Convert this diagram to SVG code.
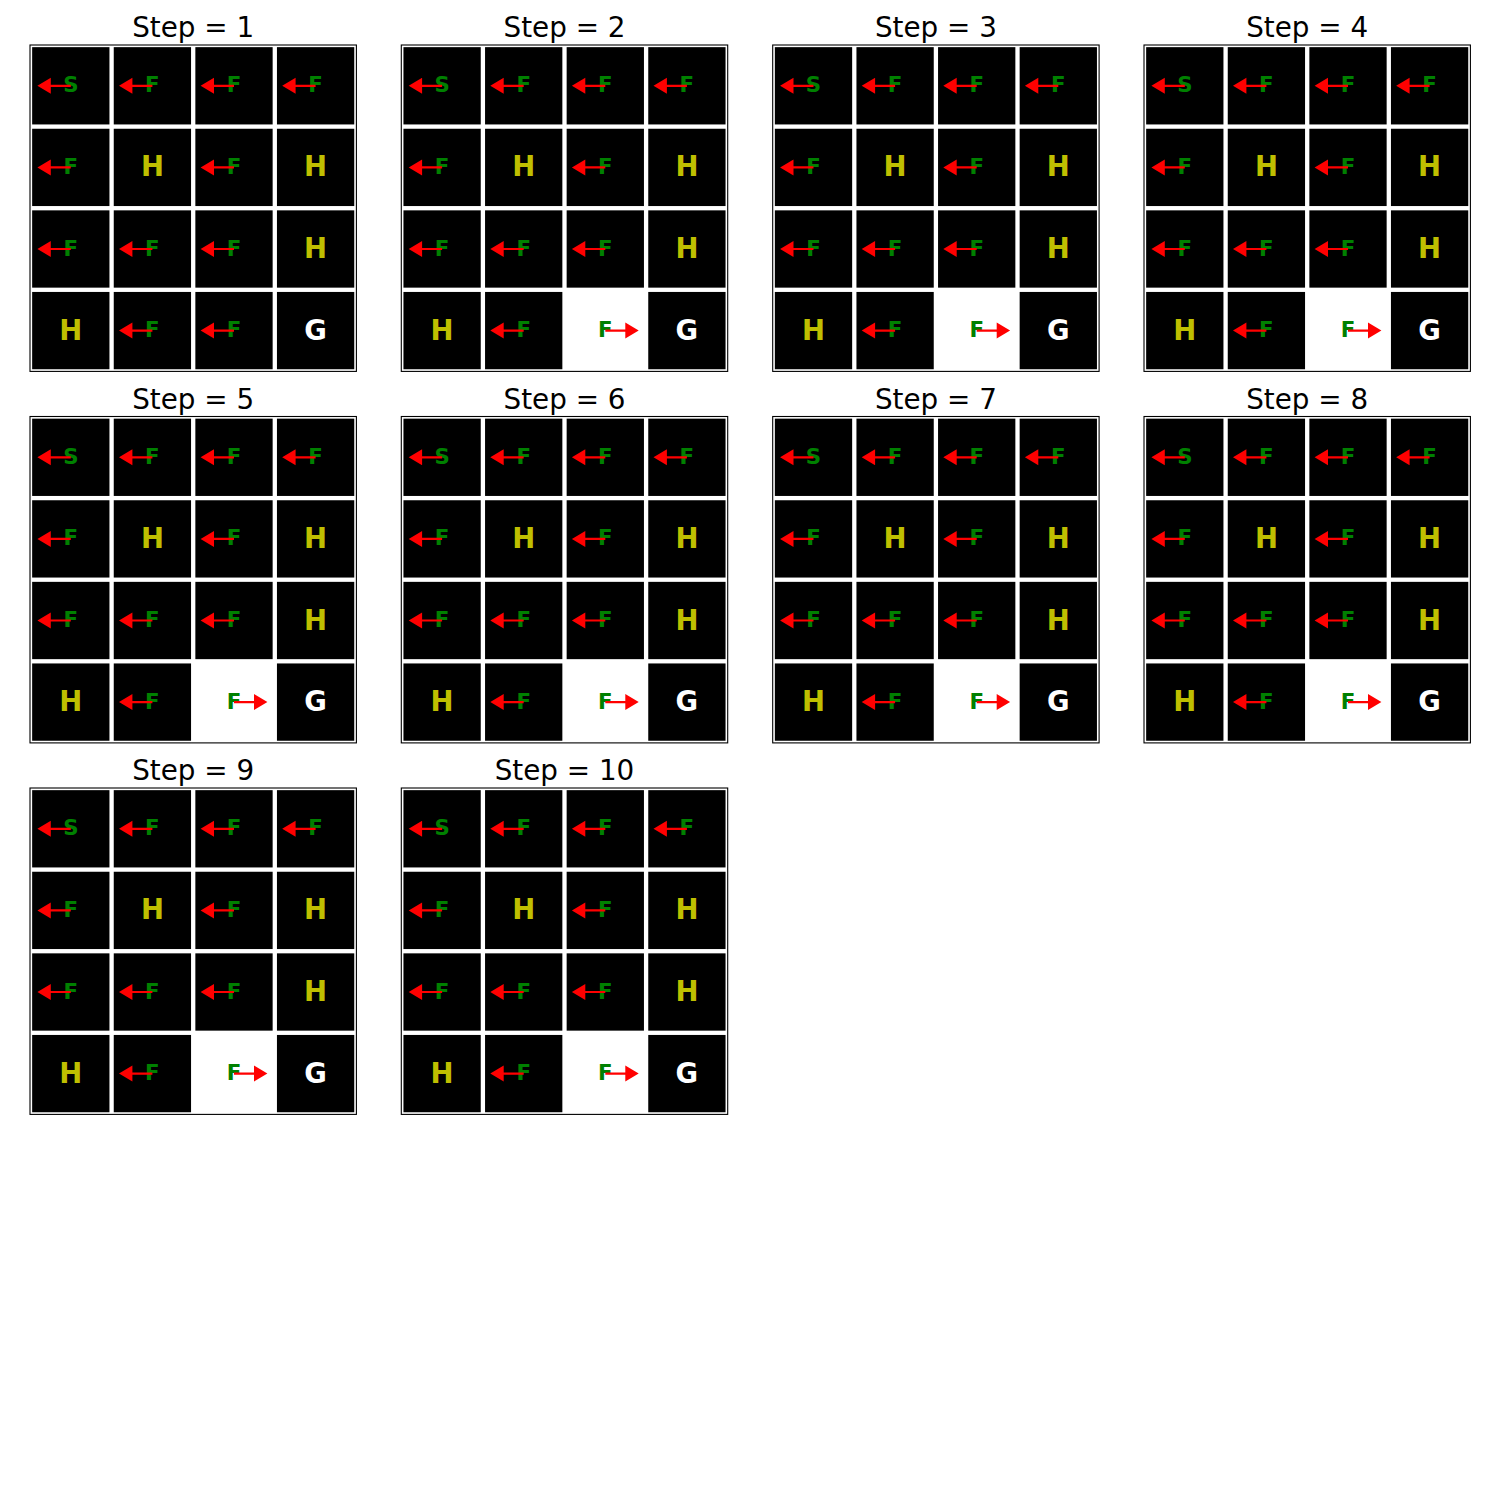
<svg xmlns="http://www.w3.org/2000/svg" xmlns:xlink="http://www.w3.org/1999/xlink" width="1500" height="1500" viewBox="0 0 1500 1500">
<style>
.bg{fill:#ffffff}
.title{font-family:"DejaVu Sans",sans-serif;font-size:27.8px;fill:#000;text-anchor:middle}
.frame{fill:#ffffff;stroke:#000;stroke-width:1.1}
.bk{fill:#000}
.sm{font-family:"DejaVu Sans",sans-serif;font-weight:bold;font-size:21.3px;fill:#008000;text-anchor:middle}
.hl{font-family:"DejaVu Sans",sans-serif;font-weight:bold;font-size:27.5px;fill:#bfbf00;text-anchor:middle}
.gl{font-family:"DejaVu Sans",sans-serif;font-weight:bold;font-size:27.5px;fill:#ffffff;text-anchor:middle}
.ar{fill:#ff0000}
</style>
<defs>
<path id="al" class="ar" d="M0,-1.1 H-20 V-8 L-33.4,0 L-20,8 V1.1 H0 Z"/>
<path id="ar" class="ar" d="M0,-1.1 H20 V-8 L33.4,0 L20,8 V1.1 H0 Z"/>
</defs>
<rect class="bg" x="0" y="0" width="1500" height="1500"/>

<g id="step1" transform="translate(30,45)">
<text class="title" x="163.2" y="-8">Step = 1</text>
<rect class="frame" x="0" y="0" width="326.4" height="326.4"/>
<g id="p1-00"><rect class="bk" x="2.15" y="2.15" width="77.3" height="77.3"/><text class="sm" x="40.8" y="47.3">S</text><use href="#al" x="40.8" y="40.8"/></g>
<g id="p1-01"><rect class="bk" x="83.75" y="2.15" width="77.3" height="77.3"/><text class="sm" x="122.4" y="47.3">F</text><use href="#al" x="122.4" y="40.8"/></g>
<g id="p1-02"><rect class="bk" x="165.35" y="2.15" width="77.3" height="77.3"/><text class="sm" x="204" y="47.3">F</text><use href="#al" x="204" y="40.8"/></g>
<g id="p1-03"><rect class="bk" x="246.95" y="2.15" width="77.3" height="77.3"/><text class="sm" x="285.6" y="47.3">F</text><use href="#al" x="285.6" y="40.8"/></g>
<g id="p1-10"><rect class="bk" x="2.15" y="83.75" width="77.3" height="77.3"/><text class="sm" x="40.8" y="128.9">F</text><use href="#al" x="40.8" y="122.4"/></g>
<g id="p1-11"><rect class="bk" x="83.75" y="83.75" width="77.3" height="77.3"/><text class="hl" x="122.4" y="131.4">H</text></g>
<g id="p1-12"><rect class="bk" x="165.35" y="83.75" width="77.3" height="77.3"/><text class="sm" x="204" y="128.9">F</text><use href="#al" x="204" y="122.4"/></g>
<g id="p1-13"><rect class="bk" x="246.95" y="83.75" width="77.3" height="77.3"/><text class="hl" x="285.6" y="131.4">H</text></g>
<g id="p1-20"><rect class="bk" x="2.15" y="165.35" width="77.3" height="77.3"/><text class="sm" x="40.8" y="210.5">F</text><use href="#al" x="40.8" y="204"/></g>
<g id="p1-21"><rect class="bk" x="83.75" y="165.35" width="77.3" height="77.3"/><text class="sm" x="122.4" y="210.5">F</text><use href="#al" x="122.4" y="204"/></g>
<g id="p1-22"><rect class="bk" x="165.35" y="165.35" width="77.3" height="77.3"/><text class="sm" x="204" y="210.5">F</text><use href="#al" x="204" y="204"/></g>
<g id="p1-23"><rect class="bk" x="246.95" y="165.35" width="77.3" height="77.3"/><text class="hl" x="285.6" y="213">H</text></g>
<g id="p1-30"><rect class="bk" x="2.15" y="246.95" width="77.3" height="77.3"/><text class="hl" x="40.8" y="294.6">H</text></g>
<g id="p1-31"><rect class="bk" x="83.75" y="246.95" width="77.3" height="77.3"/><text class="sm" x="122.4" y="292.1">F</text><use href="#al" x="122.4" y="285.6"/></g>
<g id="p1-32"><rect class="bk" x="165.35" y="246.95" width="77.3" height="77.3"/><text class="sm" x="204" y="292.1">F</text><use href="#al" x="204" y="285.6"/></g>
<g id="p1-33"><rect class="bk" x="246.95" y="246.95" width="77.3" height="77.3"/><text class="gl" x="285.6" y="294.6">G</text></g>
</g>

<g id="step2" transform="translate(401.3,45)">
<text class="title" x="163.2" y="-8">Step = 2</text>
<rect class="frame" x="0" y="0" width="326.4" height="326.4"/>
<g id="p2-00"><rect class="bk" x="2.15" y="2.15" width="77.3" height="77.3"/><text class="sm" x="40.8" y="47.3">S</text><use href="#al" x="40.8" y="40.8"/></g>
<g id="p2-01"><rect class="bk" x="83.75" y="2.15" width="77.3" height="77.3"/><text class="sm" x="122.4" y="47.3">F</text><use href="#al" x="122.4" y="40.8"/></g>
<g id="p2-02"><rect class="bk" x="165.35" y="2.15" width="77.3" height="77.3"/><text class="sm" x="204" y="47.3">F</text><use href="#al" x="204" y="40.8"/></g>
<g id="p2-03"><rect class="bk" x="246.95" y="2.15" width="77.3" height="77.3"/><text class="sm" x="285.6" y="47.3">F</text><use href="#al" x="285.6" y="40.8"/></g>
<g id="p2-10"><rect class="bk" x="2.15" y="83.75" width="77.3" height="77.3"/><text class="sm" x="40.8" y="128.9">F</text><use href="#al" x="40.8" y="122.4"/></g>
<g id="p2-11"><rect class="bk" x="83.75" y="83.75" width="77.3" height="77.3"/><text class="hl" x="122.4" y="131.4">H</text></g>
<g id="p2-12"><rect class="bk" x="165.35" y="83.75" width="77.3" height="77.3"/><text class="sm" x="204" y="128.9">F</text><use href="#al" x="204" y="122.4"/></g>
<g id="p2-13"><rect class="bk" x="246.95" y="83.75" width="77.3" height="77.3"/><text class="hl" x="285.6" y="131.4">H</text></g>
<g id="p2-20"><rect class="bk" x="2.15" y="165.35" width="77.3" height="77.3"/><text class="sm" x="40.8" y="210.5">F</text><use href="#al" x="40.8" y="204"/></g>
<g id="p2-21"><rect class="bk" x="83.75" y="165.35" width="77.3" height="77.3"/><text class="sm" x="122.4" y="210.5">F</text><use href="#al" x="122.4" y="204"/></g>
<g id="p2-22"><rect class="bk" x="165.35" y="165.35" width="77.3" height="77.3"/><text class="sm" x="204" y="210.5">F</text><use href="#al" x="204" y="204"/></g>
<g id="p2-23"><rect class="bk" x="246.95" y="165.35" width="77.3" height="77.3"/><text class="hl" x="285.6" y="213">H</text></g>
<g id="p2-30"><rect class="bk" x="2.15" y="246.95" width="77.3" height="77.3"/><text class="hl" x="40.8" y="294.6">H</text></g>
<g id="p2-31"><rect class="bk" x="83.75" y="246.95" width="77.3" height="77.3"/><text class="sm" x="122.4" y="292.1">F</text><use href="#al" x="122.4" y="285.6"/></g>
<g id="p2-32"><text class="sm" x="204" y="292.1">F</text><use href="#ar" x="204" y="285.6"/></g>
<g id="p2-33"><rect class="bk" x="246.95" y="246.95" width="77.3" height="77.3"/><text class="gl" x="285.6" y="294.6">G</text></g>
</g>

<g id="step3" transform="translate(772.7,45)">
<text class="title" x="163.2" y="-8">Step = 3</text>
<rect class="frame" x="0" y="0" width="326.4" height="326.4"/>
<g id="p3-00"><rect class="bk" x="2.15" y="2.15" width="77.3" height="77.3"/><text class="sm" x="40.8" y="47.3">S</text><use href="#al" x="40.8" y="40.8"/></g>
<g id="p3-01"><rect class="bk" x="83.75" y="2.15" width="77.3" height="77.3"/><text class="sm" x="122.4" y="47.3">F</text><use href="#al" x="122.4" y="40.8"/></g>
<g id="p3-02"><rect class="bk" x="165.35" y="2.15" width="77.3" height="77.3"/><text class="sm" x="204" y="47.3">F</text><use href="#al" x="204" y="40.8"/></g>
<g id="p3-03"><rect class="bk" x="246.95" y="2.15" width="77.3" height="77.3"/><text class="sm" x="285.6" y="47.3">F</text><use href="#al" x="285.6" y="40.8"/></g>
<g id="p3-10"><rect class="bk" x="2.15" y="83.75" width="77.3" height="77.3"/><text class="sm" x="40.8" y="128.9">F</text><use href="#al" x="40.8" y="122.4"/></g>
<g id="p3-11"><rect class="bk" x="83.75" y="83.75" width="77.3" height="77.3"/><text class="hl" x="122.4" y="131.4">H</text></g>
<g id="p3-12"><rect class="bk" x="165.35" y="83.75" width="77.3" height="77.3"/><text class="sm" x="204" y="128.9">F</text><use href="#al" x="204" y="122.4"/></g>
<g id="p3-13"><rect class="bk" x="246.95" y="83.75" width="77.3" height="77.3"/><text class="hl" x="285.6" y="131.4">H</text></g>
<g id="p3-20"><rect class="bk" x="2.15" y="165.35" width="77.3" height="77.3"/><text class="sm" x="40.8" y="210.5">F</text><use href="#al" x="40.8" y="204"/></g>
<g id="p3-21"><rect class="bk" x="83.75" y="165.35" width="77.3" height="77.3"/><text class="sm" x="122.4" y="210.5">F</text><use href="#al" x="122.4" y="204"/></g>
<g id="p3-22"><rect class="bk" x="165.35" y="165.35" width="77.3" height="77.3"/><text class="sm" x="204" y="210.5">F</text><use href="#al" x="204" y="204"/></g>
<g id="p3-23"><rect class="bk" x="246.95" y="165.35" width="77.3" height="77.3"/><text class="hl" x="285.6" y="213">H</text></g>
<g id="p3-30"><rect class="bk" x="2.15" y="246.95" width="77.3" height="77.3"/><text class="hl" x="40.8" y="294.6">H</text></g>
<g id="p3-31"><rect class="bk" x="83.75" y="246.95" width="77.3" height="77.3"/><text class="sm" x="122.4" y="292.1">F</text><use href="#al" x="122.4" y="285.6"/></g>
<g id="p3-32"><text class="sm" x="204" y="292.1">F</text><use href="#ar" x="204" y="285.6"/></g>
<g id="p3-33"><rect class="bk" x="246.95" y="246.95" width="77.3" height="77.3"/><text class="gl" x="285.6" y="294.6">G</text></g>
</g>

<g id="step4" transform="translate(1144,45)">
<text class="title" x="163.2" y="-8">Step = 4</text>
<rect class="frame" x="0" y="0" width="326.4" height="326.4"/>
<g id="p4-00"><rect class="bk" x="2.15" y="2.15" width="77.3" height="77.3"/><text class="sm" x="40.8" y="47.3">S</text><use href="#al" x="40.8" y="40.8"/></g>
<g id="p4-01"><rect class="bk" x="83.75" y="2.15" width="77.3" height="77.3"/><text class="sm" x="122.4" y="47.3">F</text><use href="#al" x="122.4" y="40.8"/></g>
<g id="p4-02"><rect class="bk" x="165.35" y="2.15" width="77.3" height="77.3"/><text class="sm" x="204" y="47.3">F</text><use href="#al" x="204" y="40.8"/></g>
<g id="p4-03"><rect class="bk" x="246.95" y="2.15" width="77.3" height="77.3"/><text class="sm" x="285.6" y="47.3">F</text><use href="#al" x="285.6" y="40.8"/></g>
<g id="p4-10"><rect class="bk" x="2.15" y="83.75" width="77.3" height="77.3"/><text class="sm" x="40.8" y="128.9">F</text><use href="#al" x="40.8" y="122.4"/></g>
<g id="p4-11"><rect class="bk" x="83.75" y="83.75" width="77.3" height="77.3"/><text class="hl" x="122.4" y="131.4">H</text></g>
<g id="p4-12"><rect class="bk" x="165.35" y="83.75" width="77.3" height="77.3"/><text class="sm" x="204" y="128.9">F</text><use href="#al" x="204" y="122.4"/></g>
<g id="p4-13"><rect class="bk" x="246.95" y="83.75" width="77.3" height="77.3"/><text class="hl" x="285.6" y="131.4">H</text></g>
<g id="p4-20"><rect class="bk" x="2.15" y="165.35" width="77.3" height="77.3"/><text class="sm" x="40.8" y="210.5">F</text><use href="#al" x="40.8" y="204"/></g>
<g id="p4-21"><rect class="bk" x="83.75" y="165.35" width="77.3" height="77.3"/><text class="sm" x="122.4" y="210.5">F</text><use href="#al" x="122.4" y="204"/></g>
<g id="p4-22"><rect class="bk" x="165.35" y="165.35" width="77.3" height="77.3"/><text class="sm" x="204" y="210.5">F</text><use href="#al" x="204" y="204"/></g>
<g id="p4-23"><rect class="bk" x="246.95" y="165.35" width="77.3" height="77.3"/><text class="hl" x="285.6" y="213">H</text></g>
<g id="p4-30"><rect class="bk" x="2.15" y="246.95" width="77.3" height="77.3"/><text class="hl" x="40.8" y="294.6">H</text></g>
<g id="p4-31"><rect class="bk" x="83.75" y="246.95" width="77.3" height="77.3"/><text class="sm" x="122.4" y="292.1">F</text><use href="#al" x="122.4" y="285.6"/></g>
<g id="p4-32"><text class="sm" x="204" y="292.1">F</text><use href="#ar" x="204" y="285.6"/></g>
<g id="p4-33"><rect class="bk" x="246.95" y="246.95" width="77.3" height="77.3"/><text class="gl" x="285.6" y="294.6">G</text></g>
</g>

<g id="step5" transform="translate(30,416.5)">
<text class="title" x="163.2" y="-8">Step = 5</text>
<rect class="frame" x="0" y="0" width="326.4" height="326.4"/>
<g id="p5-00"><rect class="bk" x="2.15" y="2.15" width="77.3" height="77.3"/><text class="sm" x="40.8" y="47.3">S</text><use href="#al" x="40.8" y="40.8"/></g>
<g id="p5-01"><rect class="bk" x="83.75" y="2.15" width="77.3" height="77.3"/><text class="sm" x="122.4" y="47.3">F</text><use href="#al" x="122.4" y="40.8"/></g>
<g id="p5-02"><rect class="bk" x="165.35" y="2.15" width="77.3" height="77.3"/><text class="sm" x="204" y="47.3">F</text><use href="#al" x="204" y="40.8"/></g>
<g id="p5-03"><rect class="bk" x="246.95" y="2.15" width="77.3" height="77.3"/><text class="sm" x="285.6" y="47.3">F</text><use href="#al" x="285.6" y="40.8"/></g>
<g id="p5-10"><rect class="bk" x="2.15" y="83.75" width="77.3" height="77.3"/><text class="sm" x="40.8" y="128.9">F</text><use href="#al" x="40.8" y="122.4"/></g>
<g id="p5-11"><rect class="bk" x="83.75" y="83.75" width="77.3" height="77.3"/><text class="hl" x="122.4" y="131.4">H</text></g>
<g id="p5-12"><rect class="bk" x="165.35" y="83.75" width="77.3" height="77.3"/><text class="sm" x="204" y="128.9">F</text><use href="#al" x="204" y="122.4"/></g>
<g id="p5-13"><rect class="bk" x="246.95" y="83.75" width="77.3" height="77.3"/><text class="hl" x="285.6" y="131.4">H</text></g>
<g id="p5-20"><rect class="bk" x="2.15" y="165.35" width="77.3" height="77.3"/><text class="sm" x="40.8" y="210.5">F</text><use href="#al" x="40.8" y="204"/></g>
<g id="p5-21"><rect class="bk" x="83.75" y="165.35" width="77.3" height="77.3"/><text class="sm" x="122.4" y="210.5">F</text><use href="#al" x="122.4" y="204"/></g>
<g id="p5-22"><rect class="bk" x="165.35" y="165.35" width="77.3" height="77.3"/><text class="sm" x="204" y="210.5">F</text><use href="#al" x="204" y="204"/></g>
<g id="p5-23"><rect class="bk" x="246.95" y="165.35" width="77.3" height="77.3"/><text class="hl" x="285.6" y="213">H</text></g>
<g id="p5-30"><rect class="bk" x="2.15" y="246.95" width="77.3" height="77.3"/><text class="hl" x="40.8" y="294.6">H</text></g>
<g id="p5-31"><rect class="bk" x="83.75" y="246.95" width="77.3" height="77.3"/><text class="sm" x="122.4" y="292.1">F</text><use href="#al" x="122.4" y="285.6"/></g>
<g id="p5-32"><text class="sm" x="204" y="292.1">F</text><use href="#ar" x="204" y="285.6"/></g>
<g id="p5-33"><rect class="bk" x="246.95" y="246.95" width="77.3" height="77.3"/><text class="gl" x="285.6" y="294.6">G</text></g>
</g>

<g id="step6" transform="translate(401.3,416.5)">
<text class="title" x="163.2" y="-8">Step = 6</text>
<rect class="frame" x="0" y="0" width="326.4" height="326.4"/>
<g id="p6-00"><rect class="bk" x="2.15" y="2.15" width="77.3" height="77.3"/><text class="sm" x="40.8" y="47.3">S</text><use href="#al" x="40.8" y="40.8"/></g>
<g id="p6-01"><rect class="bk" x="83.75" y="2.15" width="77.3" height="77.3"/><text class="sm" x="122.4" y="47.3">F</text><use href="#al" x="122.4" y="40.8"/></g>
<g id="p6-02"><rect class="bk" x="165.35" y="2.15" width="77.3" height="77.3"/><text class="sm" x="204" y="47.3">F</text><use href="#al" x="204" y="40.8"/></g>
<g id="p6-03"><rect class="bk" x="246.95" y="2.15" width="77.3" height="77.3"/><text class="sm" x="285.6" y="47.3">F</text><use href="#al" x="285.6" y="40.8"/></g>
<g id="p6-10"><rect class="bk" x="2.15" y="83.75" width="77.3" height="77.3"/><text class="sm" x="40.8" y="128.9">F</text><use href="#al" x="40.8" y="122.4"/></g>
<g id="p6-11"><rect class="bk" x="83.75" y="83.75" width="77.3" height="77.3"/><text class="hl" x="122.4" y="131.4">H</text></g>
<g id="p6-12"><rect class="bk" x="165.35" y="83.75" width="77.3" height="77.3"/><text class="sm" x="204" y="128.9">F</text><use href="#al" x="204" y="122.4"/></g>
<g id="p6-13"><rect class="bk" x="246.95" y="83.75" width="77.3" height="77.3"/><text class="hl" x="285.6" y="131.4">H</text></g>
<g id="p6-20"><rect class="bk" x="2.15" y="165.35" width="77.3" height="77.3"/><text class="sm" x="40.8" y="210.5">F</text><use href="#al" x="40.8" y="204"/></g>
<g id="p6-21"><rect class="bk" x="83.75" y="165.35" width="77.3" height="77.3"/><text class="sm" x="122.4" y="210.5">F</text><use href="#al" x="122.4" y="204"/></g>
<g id="p6-22"><rect class="bk" x="165.35" y="165.35" width="77.3" height="77.3"/><text class="sm" x="204" y="210.5">F</text><use href="#al" x="204" y="204"/></g>
<g id="p6-23"><rect class="bk" x="246.95" y="165.35" width="77.3" height="77.3"/><text class="hl" x="285.6" y="213">H</text></g>
<g id="p6-30"><rect class="bk" x="2.15" y="246.95" width="77.3" height="77.3"/><text class="hl" x="40.8" y="294.6">H</text></g>
<g id="p6-31"><rect class="bk" x="83.75" y="246.95" width="77.3" height="77.3"/><text class="sm" x="122.4" y="292.1">F</text><use href="#al" x="122.4" y="285.6"/></g>
<g id="p6-32"><text class="sm" x="204" y="292.1">F</text><use href="#ar" x="204" y="285.6"/></g>
<g id="p6-33"><rect class="bk" x="246.95" y="246.95" width="77.3" height="77.3"/><text class="gl" x="285.6" y="294.6">G</text></g>
</g>

<g id="step7" transform="translate(772.7,416.5)">
<text class="title" x="163.2" y="-8">Step = 7</text>
<rect class="frame" x="0" y="0" width="326.4" height="326.4"/>
<g id="p7-00"><rect class="bk" x="2.15" y="2.15" width="77.3" height="77.3"/><text class="sm" x="40.8" y="47.3">S</text><use href="#al" x="40.8" y="40.8"/></g>
<g id="p7-01"><rect class="bk" x="83.75" y="2.15" width="77.3" height="77.3"/><text class="sm" x="122.4" y="47.3">F</text><use href="#al" x="122.4" y="40.8"/></g>
<g id="p7-02"><rect class="bk" x="165.35" y="2.15" width="77.3" height="77.3"/><text class="sm" x="204" y="47.3">F</text><use href="#al" x="204" y="40.8"/></g>
<g id="p7-03"><rect class="bk" x="246.95" y="2.15" width="77.3" height="77.3"/><text class="sm" x="285.6" y="47.3">F</text><use href="#al" x="285.6" y="40.8"/></g>
<g id="p7-10"><rect class="bk" x="2.15" y="83.75" width="77.3" height="77.3"/><text class="sm" x="40.8" y="128.9">F</text><use href="#al" x="40.8" y="122.4"/></g>
<g id="p7-11"><rect class="bk" x="83.75" y="83.75" width="77.3" height="77.3"/><text class="hl" x="122.4" y="131.4">H</text></g>
<g id="p7-12"><rect class="bk" x="165.35" y="83.75" width="77.3" height="77.3"/><text class="sm" x="204" y="128.9">F</text><use href="#al" x="204" y="122.4"/></g>
<g id="p7-13"><rect class="bk" x="246.95" y="83.75" width="77.3" height="77.3"/><text class="hl" x="285.6" y="131.4">H</text></g>
<g id="p7-20"><rect class="bk" x="2.15" y="165.35" width="77.3" height="77.3"/><text class="sm" x="40.8" y="210.5">F</text><use href="#al" x="40.8" y="204"/></g>
<g id="p7-21"><rect class="bk" x="83.75" y="165.35" width="77.3" height="77.3"/><text class="sm" x="122.4" y="210.5">F</text><use href="#al" x="122.4" y="204"/></g>
<g id="p7-22"><rect class="bk" x="165.35" y="165.35" width="77.3" height="77.3"/><text class="sm" x="204" y="210.5">F</text><use href="#al" x="204" y="204"/></g>
<g id="p7-23"><rect class="bk" x="246.95" y="165.35" width="77.3" height="77.3"/><text class="hl" x="285.6" y="213">H</text></g>
<g id="p7-30"><rect class="bk" x="2.15" y="246.95" width="77.3" height="77.3"/><text class="hl" x="40.8" y="294.6">H</text></g>
<g id="p7-31"><rect class="bk" x="83.75" y="246.95" width="77.3" height="77.3"/><text class="sm" x="122.4" y="292.1">F</text><use href="#al" x="122.4" y="285.6"/></g>
<g id="p7-32"><text class="sm" x="204" y="292.1">F</text><use href="#ar" x="204" y="285.6"/></g>
<g id="p7-33"><rect class="bk" x="246.95" y="246.95" width="77.3" height="77.3"/><text class="gl" x="285.6" y="294.6">G</text></g>
</g>

<g id="step8" transform="translate(1144,416.5)">
<text class="title" x="163.2" y="-8">Step = 8</text>
<rect class="frame" x="0" y="0" width="326.4" height="326.4"/>
<g id="p8-00"><rect class="bk" x="2.15" y="2.15" width="77.3" height="77.3"/><text class="sm" x="40.8" y="47.3">S</text><use href="#al" x="40.8" y="40.8"/></g>
<g id="p8-01"><rect class="bk" x="83.75" y="2.15" width="77.3" height="77.3"/><text class="sm" x="122.4" y="47.3">F</text><use href="#al" x="122.4" y="40.8"/></g>
<g id="p8-02"><rect class="bk" x="165.35" y="2.15" width="77.3" height="77.3"/><text class="sm" x="204" y="47.3">F</text><use href="#al" x="204" y="40.8"/></g>
<g id="p8-03"><rect class="bk" x="246.95" y="2.15" width="77.3" height="77.3"/><text class="sm" x="285.6" y="47.3">F</text><use href="#al" x="285.6" y="40.8"/></g>
<g id="p8-10"><rect class="bk" x="2.15" y="83.75" width="77.3" height="77.3"/><text class="sm" x="40.8" y="128.9">F</text><use href="#al" x="40.8" y="122.4"/></g>
<g id="p8-11"><rect class="bk" x="83.75" y="83.75" width="77.3" height="77.3"/><text class="hl" x="122.4" y="131.4">H</text></g>
<g id="p8-12"><rect class="bk" x="165.35" y="83.75" width="77.3" height="77.3"/><text class="sm" x="204" y="128.9">F</text><use href="#al" x="204" y="122.4"/></g>
<g id="p8-13"><rect class="bk" x="246.95" y="83.75" width="77.3" height="77.3"/><text class="hl" x="285.6" y="131.4">H</text></g>
<g id="p8-20"><rect class="bk" x="2.15" y="165.35" width="77.3" height="77.3"/><text class="sm" x="40.8" y="210.5">F</text><use href="#al" x="40.8" y="204"/></g>
<g id="p8-21"><rect class="bk" x="83.75" y="165.35" width="77.3" height="77.3"/><text class="sm" x="122.4" y="210.5">F</text><use href="#al" x="122.4" y="204"/></g>
<g id="p8-22"><rect class="bk" x="165.35" y="165.35" width="77.3" height="77.3"/><text class="sm" x="204" y="210.5">F</text><use href="#al" x="204" y="204"/></g>
<g id="p8-23"><rect class="bk" x="246.95" y="165.35" width="77.3" height="77.3"/><text class="hl" x="285.6" y="213">H</text></g>
<g id="p8-30"><rect class="bk" x="2.15" y="246.95" width="77.3" height="77.3"/><text class="hl" x="40.8" y="294.6">H</text></g>
<g id="p8-31"><rect class="bk" x="83.75" y="246.95" width="77.3" height="77.3"/><text class="sm" x="122.4" y="292.1">F</text><use href="#al" x="122.4" y="285.6"/></g>
<g id="p8-32"><text class="sm" x="204" y="292.1">F</text><use href="#ar" x="204" y="285.6"/></g>
<g id="p8-33"><rect class="bk" x="246.95" y="246.95" width="77.3" height="77.3"/><text class="gl" x="285.6" y="294.6">G</text></g>
</g>

<g id="step9" transform="translate(30,788)">
<text class="title" x="163.2" y="-8">Step = 9</text>
<rect class="frame" x="0" y="0" width="326.4" height="326.4"/>
<g id="p9-00"><rect class="bk" x="2.15" y="2.15" width="77.3" height="77.3"/><text class="sm" x="40.8" y="47.3">S</text><use href="#al" x="40.8" y="40.8"/></g>
<g id="p9-01"><rect class="bk" x="83.75" y="2.15" width="77.3" height="77.3"/><text class="sm" x="122.4" y="47.3">F</text><use href="#al" x="122.4" y="40.8"/></g>
<g id="p9-02"><rect class="bk" x="165.35" y="2.15" width="77.3" height="77.3"/><text class="sm" x="204" y="47.3">F</text><use href="#al" x="204" y="40.8"/></g>
<g id="p9-03"><rect class="bk" x="246.95" y="2.15" width="77.3" height="77.3"/><text class="sm" x="285.6" y="47.3">F</text><use href="#al" x="285.6" y="40.8"/></g>
<g id="p9-10"><rect class="bk" x="2.15" y="83.75" width="77.3" height="77.3"/><text class="sm" x="40.8" y="128.9">F</text><use href="#al" x="40.8" y="122.4"/></g>
<g id="p9-11"><rect class="bk" x="83.75" y="83.75" width="77.3" height="77.3"/><text class="hl" x="122.4" y="131.4">H</text></g>
<g id="p9-12"><rect class="bk" x="165.35" y="83.75" width="77.3" height="77.3"/><text class="sm" x="204" y="128.9">F</text><use href="#al" x="204" y="122.4"/></g>
<g id="p9-13"><rect class="bk" x="246.95" y="83.75" width="77.3" height="77.3"/><text class="hl" x="285.6" y="131.4">H</text></g>
<g id="p9-20"><rect class="bk" x="2.15" y="165.35" width="77.3" height="77.3"/><text class="sm" x="40.8" y="210.5">F</text><use href="#al" x="40.8" y="204"/></g>
<g id="p9-21"><rect class="bk" x="83.75" y="165.35" width="77.3" height="77.3"/><text class="sm" x="122.4" y="210.5">F</text><use href="#al" x="122.4" y="204"/></g>
<g id="p9-22"><rect class="bk" x="165.35" y="165.35" width="77.3" height="77.3"/><text class="sm" x="204" y="210.5">F</text><use href="#al" x="204" y="204"/></g>
<g id="p9-23"><rect class="bk" x="246.95" y="165.35" width="77.3" height="77.3"/><text class="hl" x="285.6" y="213">H</text></g>
<g id="p9-30"><rect class="bk" x="2.15" y="246.95" width="77.3" height="77.3"/><text class="hl" x="40.8" y="294.6">H</text></g>
<g id="p9-31"><rect class="bk" x="83.75" y="246.95" width="77.3" height="77.3"/><text class="sm" x="122.4" y="292.1">F</text><use href="#al" x="122.4" y="285.6"/></g>
<g id="p9-32"><text class="sm" x="204" y="292.1">F</text><use href="#ar" x="204" y="285.6"/></g>
<g id="p9-33"><rect class="bk" x="246.95" y="246.95" width="77.3" height="77.3"/><text class="gl" x="285.6" y="294.6">G</text></g>
</g>

<g id="step10" transform="translate(401.3,788)">
<text class="title" x="163.2" y="-8">Step = 10</text>
<rect class="frame" x="0" y="0" width="326.4" height="326.4"/>
<g id="p10-00"><rect class="bk" x="2.15" y="2.15" width="77.3" height="77.3"/><text class="sm" x="40.8" y="47.3">S</text><use href="#al" x="40.8" y="40.8"/></g>
<g id="p10-01"><rect class="bk" x="83.75" y="2.15" width="77.3" height="77.3"/><text class="sm" x="122.4" y="47.3">F</text><use href="#al" x="122.4" y="40.8"/></g>
<g id="p10-02"><rect class="bk" x="165.35" y="2.15" width="77.3" height="77.3"/><text class="sm" x="204" y="47.3">F</text><use href="#al" x="204" y="40.8"/></g>
<g id="p10-03"><rect class="bk" x="246.95" y="2.15" width="77.3" height="77.3"/><text class="sm" x="285.6" y="47.3">F</text><use href="#al" x="285.6" y="40.8"/></g>
<g id="p10-10"><rect class="bk" x="2.15" y="83.75" width="77.3" height="77.3"/><text class="sm" x="40.8" y="128.9">F</text><use href="#al" x="40.8" y="122.4"/></g>
<g id="p10-11"><rect class="bk" x="83.75" y="83.75" width="77.3" height="77.3"/><text class="hl" x="122.4" y="131.4">H</text></g>
<g id="p10-12"><rect class="bk" x="165.35" y="83.75" width="77.3" height="77.3"/><text class="sm" x="204" y="128.9">F</text><use href="#al" x="204" y="122.4"/></g>
<g id="p10-13"><rect class="bk" x="246.95" y="83.75" width="77.3" height="77.3"/><text class="hl" x="285.6" y="131.4">H</text></g>
<g id="p10-20"><rect class="bk" x="2.15" y="165.35" width="77.3" height="77.3"/><text class="sm" x="40.8" y="210.5">F</text><use href="#al" x="40.8" y="204"/></g>
<g id="p10-21"><rect class="bk" x="83.75" y="165.35" width="77.3" height="77.3"/><text class="sm" x="122.4" y="210.5">F</text><use href="#al" x="122.4" y="204"/></g>
<g id="p10-22"><rect class="bk" x="165.35" y="165.35" width="77.3" height="77.3"/><text class="sm" x="204" y="210.5">F</text><use href="#al" x="204" y="204"/></g>
<g id="p10-23"><rect class="bk" x="246.95" y="165.35" width="77.3" height="77.3"/><text class="hl" x="285.6" y="213">H</text></g>
<g id="p10-30"><rect class="bk" x="2.15" y="246.95" width="77.3" height="77.3"/><text class="hl" x="40.8" y="294.6">H</text></g>
<g id="p10-31"><rect class="bk" x="83.75" y="246.95" width="77.3" height="77.3"/><text class="sm" x="122.4" y="292.1">F</text><use href="#al" x="122.4" y="285.6"/></g>
<g id="p10-32"><text class="sm" x="204" y="292.1">F</text><use href="#ar" x="204" y="285.6"/></g>
<g id="p10-33"><rect class="bk" x="246.95" y="246.95" width="77.3" height="77.3"/><text class="gl" x="285.6" y="294.6">G</text></g>
</g>

<g id="connectors"></g>
</svg>
